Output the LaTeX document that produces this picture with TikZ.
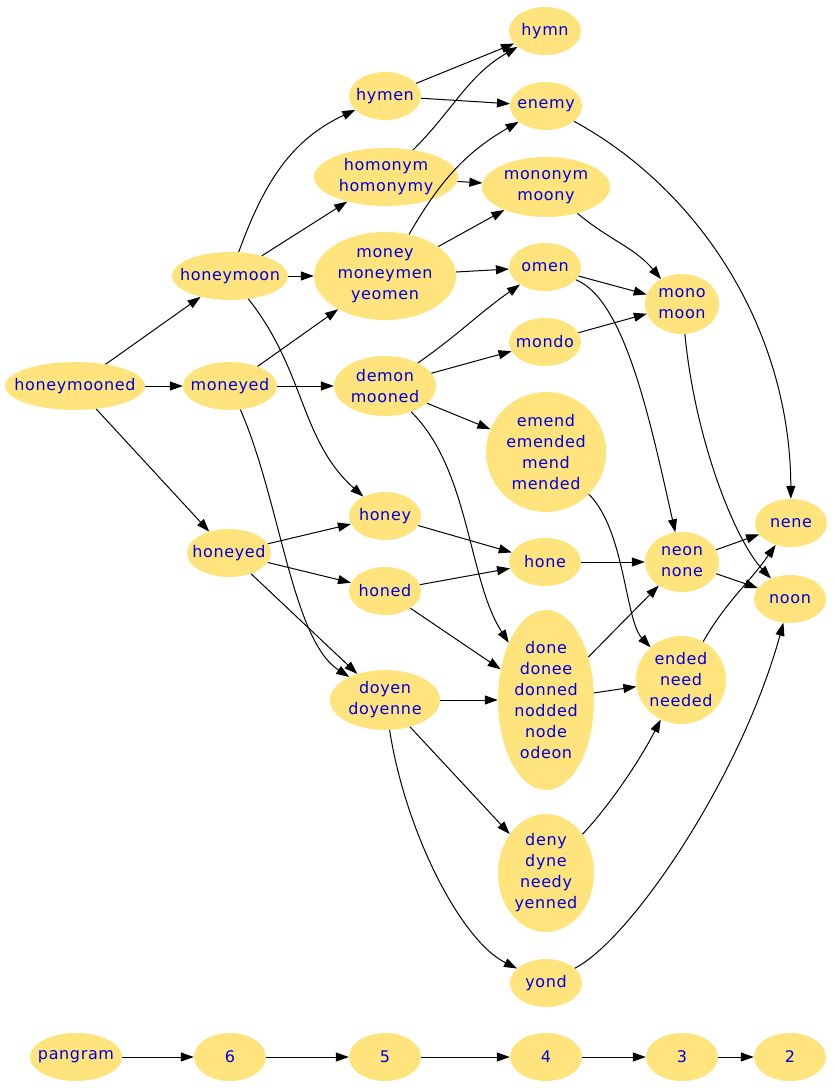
\documentclass[tikz,border=0pt]{standalone}
\usepackage{fontspec}
\setmainfont{DejaVu Sans}[LetterSpace=4]
\usepackage{tikz}
\usetikzlibrary{shapes.geometric,arrows.meta}
\definecolor{wordfill}{RGB}{255,227,125}
\definecolor{wordblue}{RGB}{0,0,220}

\begin{document}
\begin{tikzpicture}[
    x=1pt, y=1pt,
    word/.style={ellipse, fill=wordfill, text=wordblue, align=center, inner xsep=-12pt, inner ysep=0pt, minimum width=72pt, minimum height=48pt, font=\fontsize{16}{21}\selectfont},
    arrow/.style={-{Triangle[length=13pt,width=9pt]}, line width=1pt}
]
    \useasboundingbox (0,0) rectangle (834,-1089);

    % words
    \node[word] (hymn) at (545,-31) {hymn};
    \node[word] (hymen) at (385,-96) {hymen};
    \node[word] (enemy) at (546,-106) {enemy};
    \node[word, minimum width=144pt, minimum height=58pt] (homonym) at (386,-177) {homonym\\homonymy};
    \node[word, minimum width=128pt, minimum height=60pt] (mononym) at (546,-187) {mononym\\moony};
    \node[word, minimum width=116pt] (honeymoon) at (230,-276) {honeymoon};
    \node[word, minimum width=142pt, minimum height=88pt] (money) at (385,-276) {money\\moneymen\\yeomen};
    \node[word] (omen) at (545,-267) {omen};
    \node[word, minimum width=74pt, minimum height=60pt] (mono) at (682,-304) {mono\\moon};
    \node[word, minimum width=140pt] (honeymooned) at (75,-386) {honeymooned};
    \node[word, minimum width=94pt] (moneyed) at (230,-386) {moneyed};
    \node[word, minimum width=102pt, minimum height=60pt] (demon) at (385,-386) {demon\\mooned};
    \node[word] (mondo) at (545,-342) {mondo};
    \node[word, minimum width=120pt, minimum height=120pt] (emend) at (546,-452) {emend\\emended\\mend\\mended};
    \node[word] (honey) at (385,-516) {honey};
    \node[word, minimum width=84pt] (honeyed) at (229,-553) {honeyed};
    \node[word] (hone) at (545,-562) {hone};
    \node[word, minimum width=74pt, minimum height=60pt] (neon) at (682,-562) {neon\\none};
    \node[word] (nene) at (791,-523) {nene};
    \node[word] (noon) at (790,-599) {noon};
    \node[word] (honed) at (385,-591) {honed};
    \node[word, minimum width=110pt, minimum height=60pt] (doyen) at (385,-700) {doyen\\doyenne};
    \node[word, minimum width=96pt, minimum height=180pt] (done) at (546,-700) {done\\donee\\donned\\nodded\\node\\odeon};
    \node[word, minimum width=90pt, minimum height=88pt] (ended) at (681,-680) {ended\\need\\needed};
    \node[word, minimum width=96pt, minimum height=118pt] (deny) at (546,-873) {deny\\dyne\\needy\\yenned};
    \node[word] (yond) at (546,-983) {yond};

    % counts
    \node[word, minimum width=92pt] (pangram) at (76,-1057) {pangram};
    \node[word] (n6) at (230,-1057) {6};
    \node[word] (n5) at (385,-1057) {5};
    \node[word] (n4) at (546,-1057) {4};
    \node[word] (n3) at (682,-1057) {3};
    \node[word] (n2) at (790,-1057) {2};

    \draw[arrow] (honeymooned) -- (honeymoon);
    \draw[arrow] (honeymooned) -- (moneyed);
    \draw[arrow] (honeymooned) -- (honeyed);
    \draw[arrow] (honeymoon) to[out=70, in=205] (hymen);
    \draw[arrow] (honeymoon) -- (homonym);
    \draw[arrow] (honeymoon) -- (money);
    \draw[arrow] (honeymoon) .. controls (305,-370) and (300,-440) .. (honey);
    \draw[arrow] (moneyed) -- (money);
    \draw[arrow] (moneyed) -- (demon);
    \draw[arrow] (moneyed) .. controls (280,-500) and (292,-640) .. (doyen);
    \draw[arrow] (honeyed) -- (honey);
    \draw[arrow] (honeyed) -- (honed);
    \draw[arrow] (honeyed) -- (doyen);
    \draw[arrow] (hymen) -- (hymn);
    \draw[arrow] (hymen) -- (enemy);
    \draw[arrow] (homonym) to[out=45, in=210] (hymn);
    \draw[arrow] (homonym) -- (mononym);
    \draw[arrow] (money) to[out=60, in=210] (enemy);
    \draw[arrow] (money) -- (mononym);
    \draw[arrow] (money) -- (omen);
    \draw[arrow] (demon) to[out=35, in=215] (omen);
    \draw[arrow] (demon) -- (mondo);
    \draw[arrow] (demon) -- (emend);
    \draw[arrow] (demon) .. controls (470,-470) and (468,-580) .. (done);
    \draw[arrow] (enemy) .. controls (700,-190) and (790,-330) .. (nene);
    \draw[arrow] (mononym) to[out=-40, in=130] (mono);
    \draw[arrow] (omen) -- (mono);
    \draw[arrow] (omen) .. controls (625,-300) and (650,-420) .. (neon);
    \draw[arrow] (mondo) -- (mono);
    \draw[arrow] (mono) .. controls (695,-440) and (735,-540) .. (noon);
    \draw[arrow] (emend) .. controls (625,-530) and (625,-620) .. (ended);
    \draw[arrow] (honey) -- (hone);
    \draw[arrow] (honed) -- (hone);
    \draw[arrow] (honed) -- (done);
    \draw[arrow] (hone) -- (neon);
    \draw[arrow] (neon) -- (nene);
    \draw[arrow] (neon) -- (noon);
    \draw[arrow] (doyen) -- (done);
    \draw[arrow] (doyen) -- (deny);
    \draw[arrow] (doyen) .. controls (405,-830) and (460,-940) .. (yond);
    \draw[arrow] (done) -- (neon);
    \draw[arrow] (done) -- (ended);
    \draw[arrow] (ended) to[out=60, in=-125] (nene);
    \draw[arrow] (deny) .. controls (610,-805) and (640,-760) .. (ended);
    \draw[arrow] (yond) .. controls (630,-940) and (740,-780) .. (noon);

    \draw[arrow] (pangram) -- (n6);
    \draw[arrow] (n6) -- (n5);
    \draw[arrow] (n5) -- (n4);
    \draw[arrow] (n4) -- (n3);
    \draw[arrow] (n3) -- (n2);
\end{tikzpicture}
\end{document}
